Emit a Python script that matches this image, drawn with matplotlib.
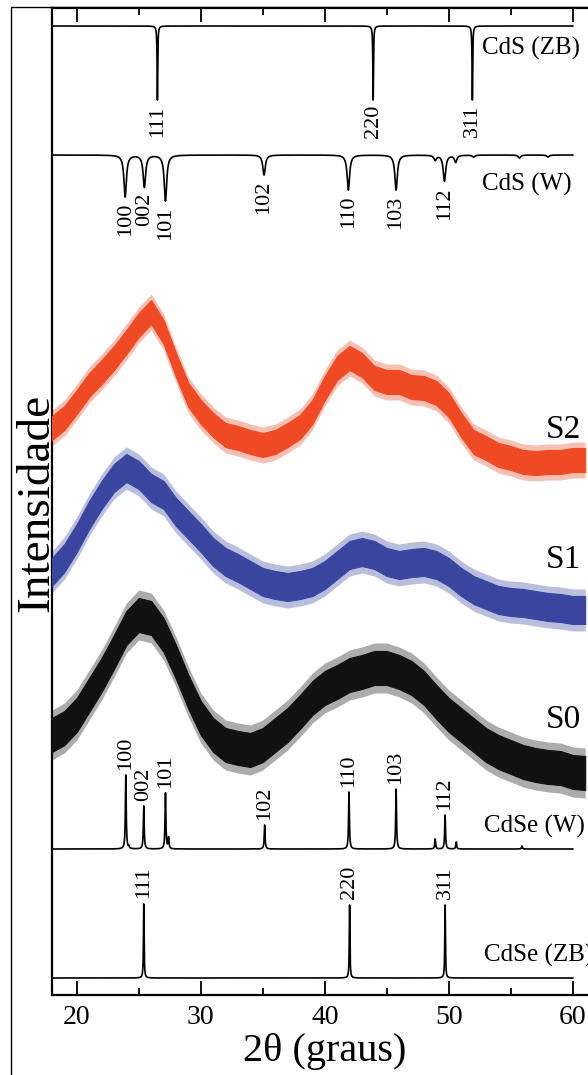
import numpy as np
import matplotlib
matplotlib.use("Agg")
import matplotlib.pyplot as plt
from matplotlib.patches import Rectangle
from matplotlib.ticker import MultipleLocator

plt.rcParams["font.family"] = ["Liberation Serif", "DejaVu Serif"]

# ------------------------------
# Amostras (2θ a cada 1 grau, intensidade deslocada, u.a.)
# ------------------------------
two_theta = list(range(18, 62))

s2_mean = [567, 577, 593, 610, 623, 637, 653, 670, 683, 663, 630, 600, 583, 570,
           560, 557, 553, 550, 553, 560, 568, 583, 607, 627, 637, 630, 617, 613,
           613, 608, 607, 602, 590, 570, 553, 547, 540, 537, 533, 532, 533, 533,
           535, 535]
s1_mean = [423, 437, 457, 480, 500, 517, 527, 520, 507, 500, 483, 470, 457, 443,
           433, 427, 420, 413, 410, 408, 410, 413, 420, 430, 440, 443, 440, 433,
           430, 432, 433, 430, 423, 413, 405, 400, 395, 393, 392, 390, 388, 387,
           385, 385]
s0_mean = [260, 267, 280, 300, 320, 343, 367, 380, 377, 360, 333, 303, 277, 260,
           250, 247, 245, 250, 260, 270, 283, 297, 307, 313, 320, 323, 327, 327,
           323, 317, 307, 293, 280, 270, 260, 250, 243, 238, 233, 230, 228, 227,
           223, 222]
# meia-largura do ruido: parte densa e picos isolados
s2_noise = [12, 18]
s1_noise = [14, 21]
s0_noise = [17, 25]

sample_names = ["S2", "S1", "S0"]
sample_colors = ["#EF4A23", "#3A45A0", "#111111"]

# ------------------------------
# Padroes de referencia
# ------------------------------
cds_zb_pos = [26.5, 43.9, 51.9]
cds_zb_int = [74, 74, 74]
cds_zb_hkl = ["111", "220", "311"]

cds_w_pos = [23.9, 25.45, 27.15, 35.1, 41.9, 45.75, 48.9, 49.65, 50.55, 52.0, 55.7, 58.0]
cds_w_int = [42, 32, 46, 20, 35, 35, 5, 26, 7, 2, 3, 2]
cds_w_hkl = ["100", "002", "101", "102", "110", "103", "", "112", "", "", "", ""]

cdse_w_pos = [23.95, 24.2, 25.4, 27.15, 27.4, 35.15, 41.95, 45.75, 48.9, 49.7, 50.6, 55.9]
cdse_w_int = [74, 2, 43, 56, 11, 24, 57, 60, 10, 34, 7, 3]
cdse_w_hkl = ["100", "", "002", "101", "", "102", "110", "103", "", "112", "", ""]

cdse_zb_pos = [25.4, 42.0, 49.7]
cdse_zb_int = [74, 73, 73]
cdse_zb_hkl = ["111", "220", "311"]

# linhas de base de cada padrao (mesma unidade das intensidades)
base_cds_zb = 969
base_cds_w = 840
base_cdse_w = 146
base_cdse_zb = 17


def perfil(pos, inten, largura, x):
    y = np.zeros_like(x)
    for p, h in zip(pos, inten):
        y += h * largura**2 / ((x - p) ** 2 + largura**2)
    return y


# ------------------------------
# Figura
# ------------------------------
fig = plt.figure(figsize=(5.88, 10.75), dpi=100)
ax = fig.add_axes([52 / 588, 80 / 1075, 545.6 / 588, 987 / 1075])
ax.set_xlim(18, 62)
ax.set_ylim(0, 987)

# moldura externa
fig.patches.append(Rectangle((11 / 588, -0.1), 1.5, 1.1 - 7.5 / 1075,
                             transform=fig.transFigure, fill=False, lw=1.0, ec="black"))

xx = np.arange(18, 60.001, 0.005)
cor_padrao = "black"
lw_p = 1.2

# CdS (ZB) e CdS (W): picos para baixo
ax.plot(xx, base_cds_zb - perfil(cds_zb_pos, cds_zb_int, 0.03, xx), color=cor_padrao, lw=lw_p)
ax.plot(xx, base_cds_w - perfil(cds_w_pos, cds_w_int, 0.12, xx), color=cor_padrao, lw=lw_p)
# CdSe (W) e CdSe (ZB): picos para cima
ax.plot(xx, base_cdse_w + perfil(cdse_w_pos, cdse_w_int, 0.04, xx), color=cor_padrao, lw=lw_p)
ax.plot(xx, base_cdse_zb + perfil(cdse_zb_pos, cdse_zb_int, 0.03, xx), color=cor_padrao, lw=lw_p)

fs_hkl = 16
for p, h, lab in zip(cds_zb_pos, cds_zb_int, cds_zb_hkl):
    ax.text(p, base_cds_zb - h - 5, lab, rotation=90, ha="center", va="top", fontsize=fs_hkl)
for p, h, lab in zip(cds_w_pos, cds_w_int, cds_w_hkl):
    if lab:
        ax.text(p, base_cds_w - h - 6, lab, rotation=90, ha="center", va="top", fontsize=fs_hkl)
for p, h, lab in zip(cdse_w_pos, cdse_w_int, cdse_w_hkl):
    if lab:
        ax.text(p, base_cdse_w + h + 5, lab, rotation=90, ha="center", va="bottom", fontsize=fs_hkl)
for p, h, lab in zip(cdse_zb_pos, cdse_zb_int, cdse_zb_hkl):
    ax.text(p, base_cdse_zb + h + 6, lab, rotation=90, ha="center", va="bottom", fontsize=fs_hkl)

fs_nome = 18
ax.text(52.7, 947, "CdS (ZB)", ha="left", va="center", fontsize=fs_nome)
ax.text(52.7, 811, "CdS (W)", ha="left", va="center", fontsize=fs_nome)
ax.text(52.8, 169, "CdSe (W)", ha="left", va="center", fontsize=fs_nome)
ax.text(52.8, 40, "CdSe (ZB)", ha="left", va="center", fontsize=fs_nome)

# amostras: faixa densa do ruido e halo mais claro dos picos isolados
for media, ruido, cor in zip([s2_mean, s1_mean, s0_mean], [s2_noise, s1_noise, s0_noise], sample_colors):
    m = np.array(media, dtype=float)
    ax.fill_between(two_theta, m - ruido[1], m + ruido[1], color=cor, alpha=0.35, lw=0, zorder=3)
    ax.fill_between(two_theta, m - ruido[0], m + ruido[0], color=cor, lw=0.8, zorder=4)

ax.text(57.8, 565, "S2", ha="left", va="center", fontsize=24)
ax.text(57.8, 435, "S1", ha="left", va="center", fontsize=24)
ax.text(57.8, 275, "S0", ha="left", va="center", fontsize=24)

# eixos
for s in ax.spines.values():
    s.set_linewidth(1.6)
ax.xaxis.set_major_locator(MultipleLocator(10))
ax.xaxis.set_minor_locator(MultipleLocator(5))
ax.tick_params(axis="x", which="both", direction="in", top=True, bottom=True,
               labelsize=20, width=1.3, pad=7)
ax.tick_params(axis="x", which="major", length=10)
ax.tick_params(axis="x", which="minor", length=5)
ax.tick_params(axis="y", left=False, labelleft=False)

ax.set_xlabel("2θ (graus)", fontsize=29, labelpad=2)
ax.set_ylabel("Intensidade", fontsize=34)
ax.yaxis.set_label_coords(0.012, 0.4985)

fig.savefig("out.png", dpi=100)
